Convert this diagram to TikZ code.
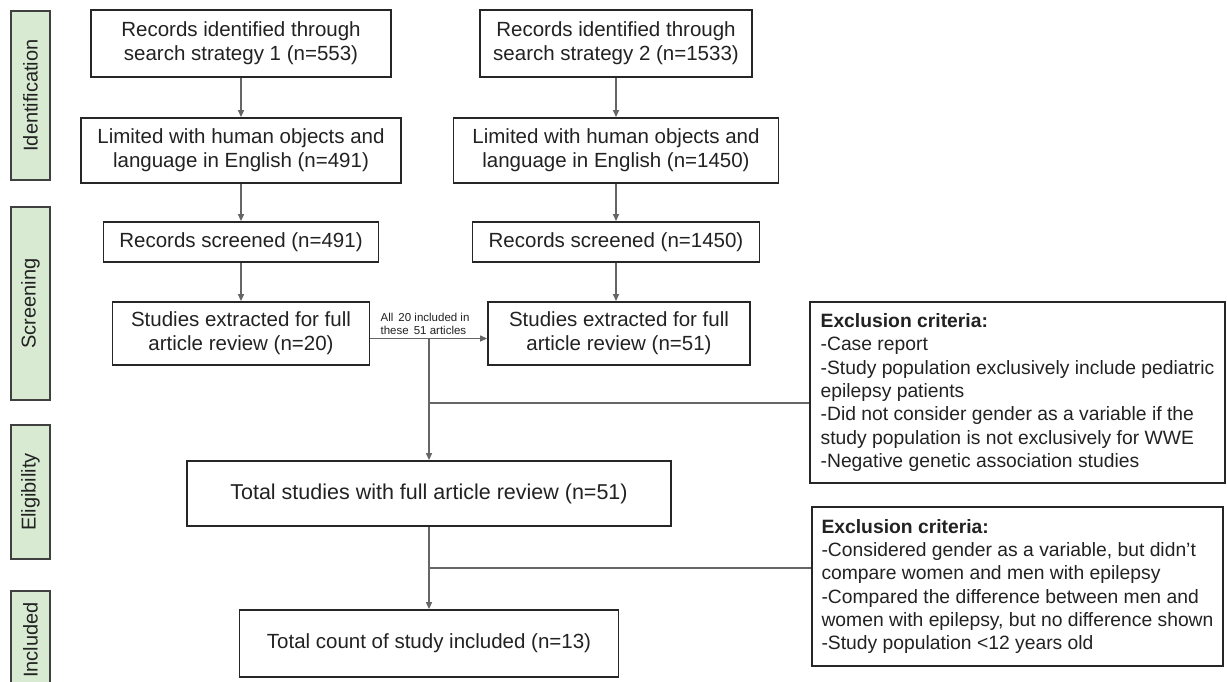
\documentclass[tikz,border=0pt]{standalone}
\usepackage{fontspec}
\setmainfont{Liberation Sans}
\usetikzlibrary{arrows.meta,calc}
\definecolor{phasefill}{HTML}{D9EAD3}
\definecolor{conncol}{HTML}{666666}
\definecolor{txtcol}{HTML}{222222}
\begin{document}
\begin{tikzpicture}[x=1pt,y=-1pt,
  box/.style={draw=black!85,line width=1.8pt,fill=white,text=txtcol,align=center,
    font=\fontsize{20.5}{24}\selectfont,inner sep=0pt},
  exclbox/.style={draw=black!85,line width=1.8pt,fill=white,text=txtcol,align=left,
    font=\fontsize{19.3}{23.3}\selectfont,inner sep=0pt},
  phasebox/.style={draw=black!75,line width=1.4pt,fill=phasefill,text=txtcol,
    font=\fontsize{20}{24}\selectfont,rotate=90,inner sep=0pt,minimum height=39pt},
  smalllabel/.style={text=txtcol,align=left,font=\fontsize{11.5}{13}\selectfont,inner sep=0pt},
  connline/.style={draw=conncol,line width=1.2pt},
  arr/.style={connline,-{Triangle[length=7pt,width=6pt]}},
]
\useasboundingbox (0,0) rectangle (1227,681);
\clip (0,0) rectangle (1227,681);
\fill[white] (0,0) rectangle (1227,681);

% phase labels
\node[phasebox,minimum width=169pt] (pid) at (30.5,95.5) {Identification};
\node[phasebox,minimum width=193pt] (pscr) at (30.5,303.5) {Screening};
\node[phasebox,minimum width=134pt] (pel) at (30.5,492) {Eligibility};
\node[phasebox,minimum width=98pt] (pin) at (30.5,640) {Included};

% left column
\node[box,minimum width=300pt,minimum height=67pt] (a1) at (241,43.5) {Records identified through\\search strategy 1 (n=553)};
\node[box,minimum width=320pt,minimum height=65pt] (a2) at (241,150.5) {Limited with human objects and\\language in English (n=491)};
\node[box,minimum width=275pt,minimum height=40pt] (a3) at (241,242) {Records screened (n=491)};
\node[box,minimum width=257pt,minimum height=63pt] (a4) at (241,333.5) {Studies extracted for full\\article review (n=20)};

% right column
\node[box,minimum width=272pt,minimum height=67pt] (b1) at (616,43.5) {Records identified through\\search strategy 2 (n=1533)};
\node[box,minimum width=325pt,minimum height=65pt] (b2) at (616,150.5) {Limited with human objects and\\language in English (n=1450)};
\node[box,minimum width=287pt,minimum height=40pt] (b3) at (616,242) {Records screened (n=1450)};
\node[box,minimum width=262pt,minimum height=63pt] (b4) at (619,333.5) {Studies extracted for full\\article review (n=51)};

% bottom
\node[box,minimum width=484pt,minimum height=65pt,font=\fontsize{21.5}{25}\selectfont] (tot) at (429,493.5) {Total studies with full article review (n=51)};
\node[box,minimum width=379pt,minimum height=67pt] (cnt) at (429,643.5) {Total count of study included (n=13)};

% exclusion boxes
\node[exclbox,minimum width=415pt,minimum height=181pt] (ex1) at (1017.5,392.5) {\textbf{Exclusion criteria:}\\-Case report\\-Study population exclusively include pediatric\\epilepsy patients\\-Did not consider gender as a variable if the\\study population is not exclusively for WWE\\-Negative genetic association studies};
\node[exclbox,minimum width=411pt,minimum height=159pt] (ex2) at (1017.5,586.5) {\textbf{Exclusion criteria:}\\-Considered gender as a variable, but didn’t\\compare women and men with epilepsy\\-Compared the difference between men and\\women with epilepsy, but no difference shown\\-Study population <12 years old};

% vertical arrows
\draw[arr] (a1.south) -- (a2.north);
\draw[arr] (a2.south) -- (a3.north);
\draw[arr] (a3.south) -- (a4.north);
\draw[arr] (b1.south) -- (b2.north);
\draw[arr] (b2.south) -- (b3.north);
\draw[arr] (b3.south) -- (b3.south |- b4.north);

% horizontal arrow between studies boxes
\coordinate (j1) at ([yshift=-5pt]a4.east -| tot.north);
\draw[arr] ([yshift=-5pt]a4.east) -- ([yshift=-5pt]a4.east -| b4.west);
\node[smalllabel,anchor=south west] (lbl) at ([xshift=10pt,yshift=4pt]a4.east |- j1) {All\, 20 included in\\these\, 51 articles};

% to total and exclusions
\draw[arr] (j1) -- (tot.north);
\coordinate (j2) at (429,403);
\draw[connline] (j2) -- (j2 -| ex1.west);
\draw[arr] (tot.south) -- (cnt.north);
\coordinate (j3) at (429,568);
\draw[connline] (j3) -- (j3 -| ex2.west);
\end{tikzpicture}
\end{document}
